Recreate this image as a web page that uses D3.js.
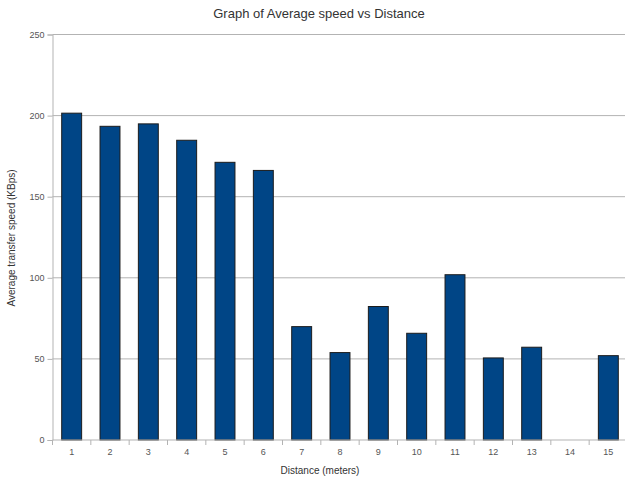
<!DOCTYPE html>
<html>
<head>
<meta charset="utf-8">
<script src="https://cdn.jsdelivr.net/npm/d3@7"></script>
<style>
  body { margin: 0; background: #fff; }
  text { font-family: "Liberation Sans", Arial, sans-serif; }
</style>
</head>
<body>
<div id="chart"></div>
<script>
const distances = ["1","2","3","4","5","6","7","8","9","10","11","12","13","14","15"];
const speeds = [201.5, 193.4, 194.9, 184.8, 171.2, 166.2, 69.9, 53.9, 82.3, 65.8, 101.9, 50.6, 57.2, null, 52];
const yTicks = [0, 50, 100, 150, 200, 250];

const W = 625, H = 479;
const margin = { top: 34.5, right: -2.5, bottom: 39, left: 52.5 };
const width = W - margin.left - margin.right;
const height = H - margin.top - margin.bottom;

const data = distances.map((d, i) => ({ dist: d, speed: speeds[i] }));

const svg = d3.select("#chart")
  .append("svg")
    .attr("width", W)
    .attr("height", H);

const g = svg.append("g")
    .attr("transform", `translate(${margin.left},${margin.top})`);

const x = d3.scaleBand()
  .domain(distances)
  .range([0, width])
  .paddingInner(0.48)
  .paddingOuter(0.24);

const y = d3.scaleLinear()
  .domain([0, 250])
  .range([height, 0]);

// gridlines
g.selectAll(".grid")
  .data(yTicks.filter(d => d > 0))
  .enter().append("line")
    .attr("x1", 0)
    .attr("x2", width)
    .attr("y1", d => y(d))
    .attr("y2", d => y(d))
    .attr("stroke", "#b3b3b3")
    .attr("stroke-width", 1);

// bars
g.selectAll(".bar")
  .data(data.filter(d => d.speed != null))
  .enter().append("rect")
    .attr("x", d => x(d.dist))
    .attr("y", d => y(d.speed))
    .attr("width", x.bandwidth())
    .attr("height", d => height - y(d.speed))
    .attr("fill", "#004586")
    .attr("stroke", "#1c1c1c")
    .attr("stroke-width", 1);

// y axis
const yAxis = g.append("g")
  .call(d3.axisLeft(y).tickValues(yTicks).tickSize(5).tickPadding(3));
yAxis.select(".domain").attr("stroke", "#b3b3b3");
yAxis.selectAll(".tick line").attr("stroke", "#b3b3b3");
yAxis.selectAll("text").attr("fill", "#555").style("font-size", "9px")
  .style("font-family", "'Liberation Sans', Arial, sans-serif");

// x axis: ticks between categories
const step = x.step();
const xAxis = g.append("g").attr("transform", `translate(0,${height})`);
xAxis.append("line")
  .attr("x1", 0).attr("x2", width)
  .attr("y1", 0).attr("y2", 0)
  .attr("stroke", "#b3b3b3");
xAxis.selectAll(".sep")
  .data(d3.range(distances.length + 1))
  .enter().append("line")
    .attr("x1", i => i * step)
    .attr("x2", i => i * step)
    .attr("y1", 0)
    .attr("y2", 5)
    .attr("stroke", "#b3b3b3");
xAxis.selectAll(".lbl")
  .data(distances)
  .enter().append("text")
    .attr("x", d => x(d) + x.bandwidth() / 2)
    .attr("y", 15)
    .attr("text-anchor", "middle")
    .attr("fill", "#555")
    .style("font-size", "9px")
    .text(d => d);

// titles
svg.append("text")
  .attr("x", 319)
  .attr("y", 18)
  .attr("text-anchor", "middle")
  .attr("fill", "#333")
  .style("font-size", "13px")
  .text("Graph of Average speed vs Distance");

svg.append("text")
  .attr("x", 320)
  .attr("y", 474)
  .attr("text-anchor", "middle")
  .attr("fill", "#333")
  .style("font-size", "10px")
  .text("Distance (meters)");

svg.append("text")
  .attr("transform", "translate(15,238) rotate(-90)")
  .attr("text-anchor", "middle")
  .attr("fill", "#333")
  .style("font-size", "10px")
  .text("Average transfer speed (KBps)");
</script>
</body>
</html>
